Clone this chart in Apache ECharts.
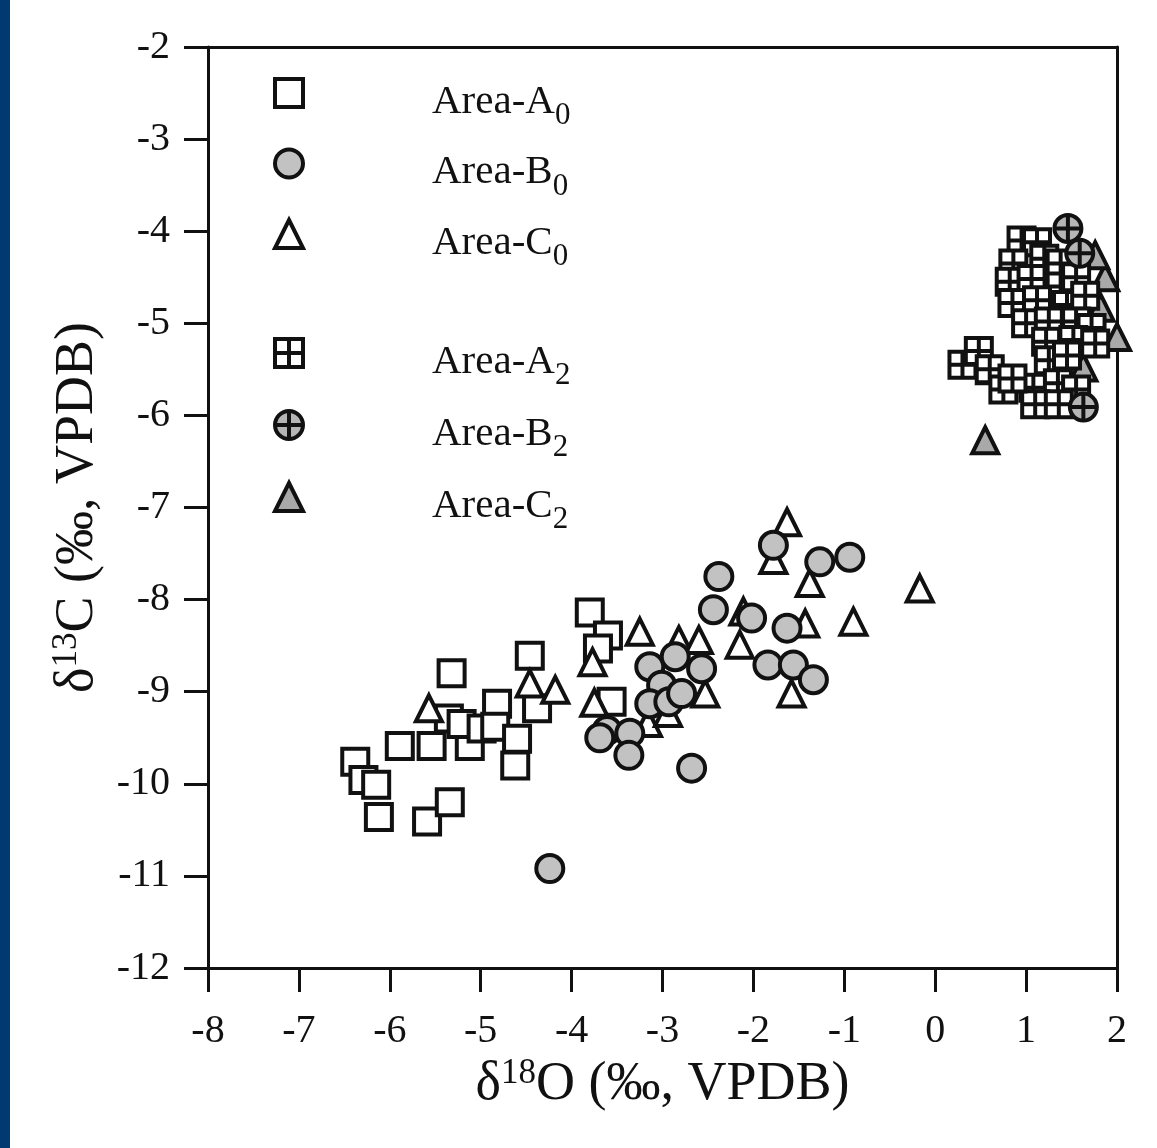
<!DOCTYPE html>
<html>
<head>
<meta charset="utf-8">
<script src="https://cdn.jsdelivr.net/npm/echarts@6/dist/echarts.min.js"></script>
<style>
html,body{margin:0;padding:0;background:#fff;}
#chart{width:1157px;height:1148px;}
</style>
</head>
<body>
<div id="chart"></div>
<script>
// ---- data (δ18O, δ13C) ----
const areaA0 = [
  [-6.38,-9.76],[-6.29,-9.96],[-6.15,-10.01],[-6.12,-10.36],[-5.89,-9.59],[-5.54,-9.59],
  [-5.32,-8.80],[-5.35,-9.29],[-5.12,-9.59],[-5.21,-9.35],[-4.99,-9.40],[-4.82,-9.13],
  [-4.84,-9.38],[-4.60,-9.51],[-4.62,-9.80],[-4.46,-8.61],[-4.38,-9.18],[-5.59,-10.41],
  [-5.34,-10.20],[-3.80,-8.14],[-3.60,-8.39],[-3.71,-8.53],[-3.56,-9.11]
];
const areaC0 = [
  [-5.57,-9.18],[-4.46,-8.91],[-4.18,-8.98],[-3.77,-8.68],[-3.75,-9.12],[-3.25,-8.35],
  [-2.82,-8.44],[-2.60,-8.44],[-2.53,-9.02],[-1.63,-7.16],[-1.78,-7.57],[-1.38,-7.82],
  [-0.17,-7.88],[-0.90,-8.24],[-2.11,-8.13],[-2.15,-8.49],[-1.43,-8.26],[-1.58,-9.02],
  [-3.16,-9.34],[-2.94,-9.23]
];
const areaB0 = [
  [-4.24,-10.92],[-3.61,-9.42],[-3.69,-9.50],[-3.36,-9.45],[-3.37,-9.69],[-2.68,-9.83],
  [-3.14,-8.73],[-3.01,-8.93],[-3.14,-9.13],[-2.93,-9.11],[-2.79,-9.02],[-2.86,-8.62],
  [-2.57,-8.75],[-2.38,-7.75],[-2.44,-8.11],[-2.02,-8.20],[-1.78,-7.41],[-1.27,-7.59],
  [-0.94,-7.54],[-1.63,-8.31],[-1.84,-8.71],[-1.56,-8.71],[-1.34,-8.87]
];
const areaC2 = [
  [0.55,-6.27],[0.61,-5.51],[1.87,-4.50],[2.00,-5.15],[1.63,-5.48],[1.76,-4.26],[1.82,-4.83]
];
const areaA2 = [
  [0.95,-4.10],[1.12,-4.12],[0.86,-4.35],[1.20,-4.30],[1.38,-4.35],
  [0.82,-4.55],[1.06,-4.52],[1.38,-4.60],[1.55,-4.50],
  [0.85,-4.78],[1.12,-4.75],[1.45,-4.80],[1.65,-4.70],
  [1.00,-5.00],[1.25,-4.98],[1.55,-4.98],[1.72,-5.05],
  [1.22,-5.20],[1.52,-5.18],[1.76,-5.22],
  [0.30,-5.45],[0.48,-5.30],[0.60,-5.50],[1.25,-5.40],[1.45,-5.35],
  [0.75,-5.72],[1.08,-5.70],[1.35,-5.65],[1.55,-5.72],
  [1.10,-5.88],[1.36,-5.88],[0.85,-5.60]
];
const areaB2 = [
  [1.46,-3.97],[1.59,-4.24],[1.63,-5.91]
];
const legendTop = ['Area-A0','Area-B0','Area-C0'];
const legendBottom = ['Area-A2','Area-B2','Area-C2'];

const FONT = '"Liberation Serif","Times New Roman",serif';
const INK = '#111111';
const SQ_GRID = 'path://M0,0H24V24H0Z M12,0V24 M0,12H24';
const CIR_PLUS = 'path://M0,12A12,12,0,1,1,24,12A12,12,0,1,1,0,12Z M12,0V24 M0,12H24';

function mk(name, data, symbol, size, fill) {
  return {
    name: name, type: 'scatter', data: data, symbol: symbol, symbolSize: size,
    itemStyle: { color: fill, borderColor: INK, borderWidth: 4, opacity: 1 },
    emphasis: { disabled: true }, animation: false
  };
}

const richLegend = {
  g: { width: 124, fontSize: 41, lineHeight: 50 },
  n: { fontSize: 41, fontFamily: FONT, color: INK, lineHeight: 50, padding: [18, 0, 0, 0] },
  s: { fontSize: 31, fontFamily: FONT, color: INK, lineHeight: 50, padding: [46, 0, 0, 0] }
};
function legendFmt(name) {
  return '{g|}{n|' + name.slice(0, -1) + '}{s|' + name.slice(-1) + '}';
}
function mkLegend(data, top, gap) {
  return {
    data: data, orient: 'vertical', left: 268, top: top, itemGap: gap,
    itemWidth: 28, itemHeight: 28, selectedMode: false,
    itemStyle: { borderWidth: 4, borderColor: INK },
    formatter: legendFmt, textStyle: { rich: richLegend }
  };
}

const axisCommon = {
  axisLine: { show: true, lineStyle: { color: INK, width: 3 } },
  axisTick: { show: true, inside: false, length: 24, lineStyle: { color: INK, width: 3 } },
  splitLine: { show: false },
  axisLabel: { fontFamily: FONT, fontSize: 40, color: INK }
};
const nameRich = {
  m: { fontFamily: FONT, fontSize: 54, color: INK },
  p: { fontFamily: FONT, fontSize: 35, color: INK, padding: [0, 0, 22, 0] }
};

const chart = echarts.init(document.getElementById('chart'), null, { renderer: 'canvas' });
chart.setOption({
  backgroundColor: '#ffffff',
  animation: false,
  graphic: [{ type: 'rect', left: 0, top: 0, shape: { width: 10, height: 1148 }, style: { fill: '#003a70' }, z: 100 }],
  grid: { left: 208, right: 40, top: 47, bottom: 180 },
  legend: [mkLegend(legendTop, 49.5, -6.5), mkLegend(legendBottom, 309.5, -5)],
  xAxis: [
    Object.assign({}, axisCommon, {
      type: 'value', min: -8, max: 2, interval: 1, position: 'bottom',
      axisLabel: Object.assign({}, axisCommon.axisLabel, { margin: 43 }),
      name: '{m|δ}{p|18}{m|O (‰, VPDB)}', nameLocation: 'middle', nameGap: 78,
      nameTextStyle: { rich: nameRich }
    }),
    { type: 'value', min: -8, max: 2, position: 'top', axisLine: { show: true, onZero: false, lineStyle: { color: INK, width: 3 } },
      axisTick: { show: false }, axisLabel: { show: false }, splitLine: { show: false } }
  ],
  yAxis: [
    Object.assign({}, axisCommon, {
      type: 'value', min: -12, max: -2, interval: 1, position: 'left',
      axisLine: { show: true, onZero: false, lineStyle: { color: INK, width: 3 } },
      axisLabel: Object.assign({}, axisCommon.axisLabel, { margin: 38 }),
      name: '{m|δ}{p|13}{m|C (‰, VPDB)}', nameLocation: 'middle', nameGap: 102, nameRotate: 90,
      nameTextStyle: { rich: nameRich }
    }),
    { type: 'value', min: -12, max: -2, position: 'right', axisLine: { show: true, onZero: false, lineStyle: { color: INK, width: 3 } },
      axisTick: { show: false }, axisLabel: { show: false }, splitLine: { show: false } }
  ],
  series: [
    mk('Area-A0', areaA0, 'rect', 26, '#ffffff'),
    mk('Area-C0', areaC0, 'triangle', 26, '#ffffff'),
    mk('Area-B0', areaB0, 'circle', 27, '#c2c2c2'),
    mk('Area-C2', areaC2, 'triangle', 26, '#a9a9a9'),
    mk('Area-A2', areaA2, SQ_GRID, 26, '#ffffff'),
    mk('Area-B2', areaB2, CIR_PLUS, 27, '#b5b5b5')
  ]
});
</script>
</body>
</html>
